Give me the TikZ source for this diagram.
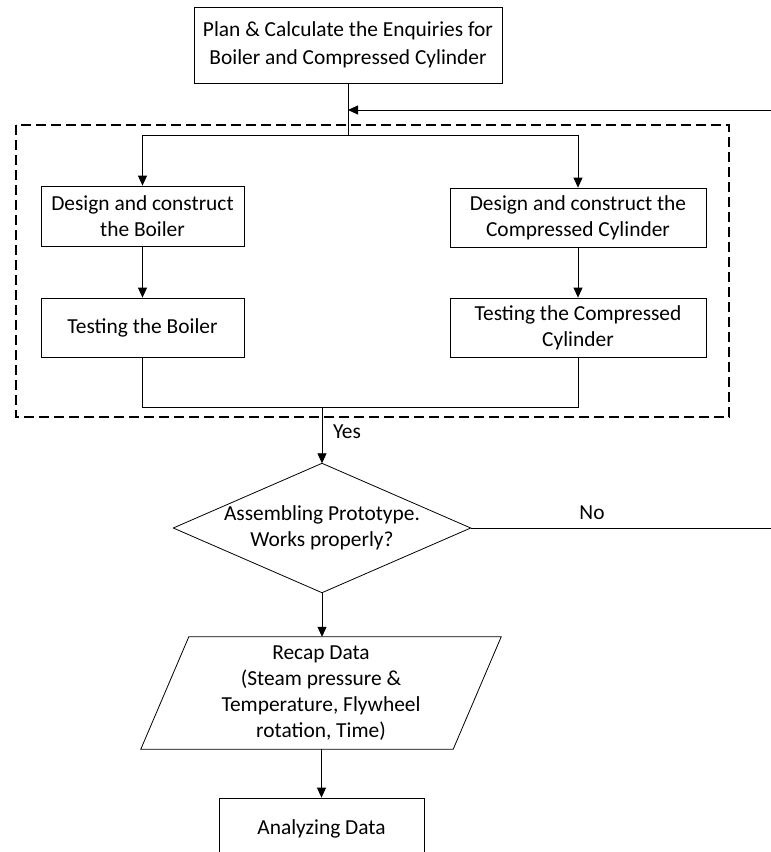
\documentclass[tikz,border=0pt]{standalone}
\usepackage{fontspec}
\setmainfont{Carlito}
\usetikzlibrary{arrows.meta}
\begin{document}
\begin{tikzpicture}[x=1pt,y=-1pt,
  every node/.style={font=\fontsize{21.4}{26}\selectfont, align=center, inner sep=0pt},
  box/.style={draw, line width=0.8pt},
  conn/.style={line width=0.8pt},
  arr/.style={conn, -{Triangle[length=10pt,width=9pt]}},
  grp/.style={line width=1.6pt, dash pattern=on 10pt off 5pt},
]
\useasboundingbox (0,0) rectangle (771,852);
\clip (0,0) rectangle (771,852);

\node[box, minimum width=308pt, minimum height=76pt, font=\fontsize{21.4}{28}\selectfont] (plan) at (348,45)
  {Plan \& Calculate the Enquiries for\\Boiler and Compressed Cylinder};

\coordinate (split) at (348,135);
\coordinate (fbin) at (348,110);
\coordinate (fbstart) at (771,110);

\draw[grp] (16,125) rectangle (729,417);

\node[box, minimum width=203pt, minimum height=60pt] (db) at (142.5,216) {Design and construct\\the Boiler};
\node[box, minimum width=256pt, minimum height=59pt] (dc) at (578,217.5) {Design and construct the\\Compressed Cylinder};
\node[box, minimum width=203pt, minimum height=59pt] (tb) at (142.5,327.5) {Testing the Boiler};
\node[box, minimum width=256pt, minimum height=59pt] (tc) at (578,327.5) {Testing the Compressed\\Cylinder};

\draw[arr] (fbstart) -- (fbin);
\draw[conn] (plan.south) -- (split);
\draw[arr] (split) -| (db.north);
\draw[arr] (split) -| (dc.north);
\draw[arr] (db.south) -- (tb.north);
\draw[arr] (dc.south) -- (tc.north);

\coordinate (join) at (322,407);
\draw[conn] (tb.south) |- (tc.south |- join) -- (tc.south);

% decision
\node[minimum width=297pt, minimum height=129pt] (dec) at (322,528) {Assembling Prototype.\\Works properly?};
\draw[conn] (dec.north) -- (dec.east) -- (dec.south) -- (dec.west) -- cycle;
\draw[arr] (join) -- (dec.north);
\node (yes) at (347,432) {Yes};

\coordinate (noend) at (771,528);
\draw[conn] (dec.east) -- (noend);
\node (no) at (592,513) {No};

% recap parallelogram
\node[minimum width=312pt, minimum height=112pt] (recap) at (321,693)
  {Recap Data\\(Steam pressure \&\\Temperature, Flywheel\\rotation, Time)};
\draw[conn] ([xshift=24pt]recap.north west) -- ([xshift=24pt]recap.north east)
  -- ([xshift=-24pt]recap.south east) -- ([xshift=-24pt]recap.south west) -- cycle;
\draw[arr] (dec.south) -- (dec.south |- recap.north);

\node[box, minimum width=205pt, minimum height=62pt] (ana) at (321.5,829) {Analyzing Data};
\draw[arr] (recap.south -| ana.north) -- (ana.north);
\end{tikzpicture}
\end{document}
